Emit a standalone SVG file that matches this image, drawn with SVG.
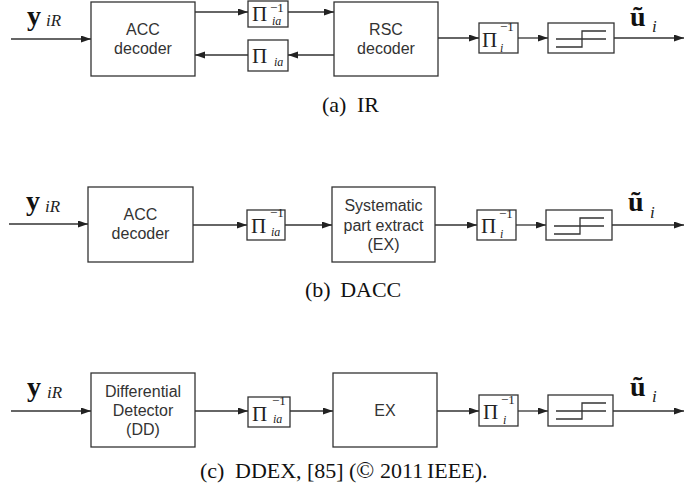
<svg xmlns="http://www.w3.org/2000/svg" width="684" height="497" viewBox="0 0 684 497">
<defs>
<style>
.box{fill:#fff;stroke:#333;stroke-width:1.3}
.ln{fill:none;stroke:#333;stroke-width:1.3}
.con{fill:none;stroke:#333;stroke-width:1.3;marker-end:url(#ah)}
.sans{font-family:"Liberation Sans",Arial,sans-serif;font-size:16px;fill:#333;text-anchor:middle}
.pi{font-family:"Liberation Serif","Times New Roman",serif;font-size:21px;fill:#222}
.sup{font-family:"Liberation Serif","Times New Roman",serif;font-size:13px;fill:#222}
.sub{font-family:"Liberation Serif","Times New Roman",serif;font-style:italic;font-size:12px;fill:#222}
.big{font-family:"Liberation Serif","Times New Roman",serif;font-weight:bold;font-size:28px;fill:#111}
.ital{font-family:"Liberation Serif","Times New Roman",serif;font-style:italic;font-size:17px;fill:#222}
.cap{font-family:"Liberation Serif","Times New Roman",serif;font-size:22px;fill:#111}
</style>
<marker id="ah" markerUnits="userSpaceOnUse" markerWidth="11" markerHeight="8" refX="10" refY="3.5" orient="auto">
<path d="M0,0 L10,3.5 L0,7 z" fill="#222"/>
</marker>
<g id="step">
<path class="ln" d="M8,16 H58 M8,24 H34 V8 H58"/>
</g>
</defs>

<!-- Row (a) -->
<g id="a-acc"><rect class="box" x="91" y="2" width="104" height="74"/><text class="sans" x="143" y="35">ACC</text><text class="sans" x="143" y="54">decoder</text></g>
<g id="a-pi1"><rect class="box" x="248" y="1" width="40" height="26"/><text class="pi" x="252" y="21">Π</text><text class="sup" x="270" y="12">−1</text><text class="sub" x="272" y="25">ia</text></g>
<g id="a-pi2"><rect class="box" x="248" y="40" width="40" height="31"/><text class="pi" x="252" y="63">Π</text><text class="sub" x="274" y="66">ia</text></g>
<g id="a-rsc"><rect class="box" x="334" y="2" width="104" height="74"/><text class="sans" x="386" y="35">RSC</text><text class="sans" x="386" y="54">decoder</text></g>
<g id="a-pii"><rect class="box" x="479" y="23" width="39" height="30"/><text class="pi" x="482" y="47">Π</text><text class="sup" x="500" y="31">−1</text><text class="sub" x="500" y="52">i</text></g>
<g id="a-hd"><rect class="box" x="548" y="23" width="66" height="30"/><use href="#step" x="548" y="23"/></g>
<g id="a-lbl"><text class="big" x="27" y="25">y</text><text class="ital" x="46" y="26">iR</text><text class="big" x="630" y="26">ũ</text><text class="ital" x="652" y="32">i</text></g>
<text class="cap" x="322" y="112">(a)<tspan dx="5"> </tspan>IR</text>

<!-- Row (b) -->
<g id="b-acc"><rect class="box" x="88" y="187" width="105" height="75"/><text class="sans" x="140.5" y="220">ACC</text><text class="sans" x="140.5" y="239">decoder</text></g>
<g id="b-pi"><rect class="box" x="247" y="210" width="38" height="30"/><text class="pi" x="251" y="233">Π</text><text class="sup" x="270" y="217">−1</text><text class="sub" x="271" y="236">ia</text></g>
<g id="b-sys"><rect class="box" x="332" y="187" width="103" height="75"/><text class="sans" x="383.5" y="210.5">Systematic</text><text class="sans" x="383.5" y="230.5">part extract</text><text class="sans" x="383.5" y="250">(EX)</text></g>
<g id="b-pii"><rect class="box" x="477" y="210" width="39" height="30"/><text class="pi" x="481" y="233">Π</text><text class="sup" x="499" y="218">−1</text><text class="sub" x="500" y="238">i</text></g>
<g id="b-hd"><rect class="box" x="546" y="210" width="66" height="30"/><use href="#step" x="546" y="210"/></g>
<g id="b-lbl"><text class="big" x="26" y="210">y</text><text class="ital" x="45" y="212">iR</text><text class="big" x="628" y="211">ũ</text><text class="ital" x="650" y="218">i</text></g>
<text class="cap" x="305" y="297">(b)<tspan dx="4"> </tspan>DACC</text>

<!-- Row (c) -->
<g id="c-dd"><rect class="box" x="91" y="373" width="104" height="74"/><text class="sans" x="143" y="396.5">Differential</text><text class="sans" x="143" y="415.5">Detector</text><text class="sans" x="143" y="435">(DD)</text></g>
<g id="c-pi"><rect class="box" x="248" y="397" width="42" height="30"/><text class="pi" x="252" y="421">Π</text><text class="sup" x="272" y="405">−1</text><text class="sub" x="273" y="423">ia</text></g>
<g id="c-ex"><rect class="box" x="333" y="373" width="104" height="74"/><text class="sans" x="385" y="416">EX</text></g>
<g id="c-pii"><rect class="box" x="479" y="395" width="39" height="31"/><text class="pi" x="483" y="419">Π</text><text class="sup" x="501" y="404">−1</text><text class="sub" x="503" y="424">i</text></g>
<g id="c-hd"><rect class="box" x="548" y="395" width="65" height="31"/><use href="#step" x="548" y="395"/></g>
<g id="c-lbl"><text class="big" x="27" y="396">y</text><text class="ital" x="47" y="398">iR</text><text class="big" x="630" y="396">ũ</text><text class="ital" x="652" y="402">i</text></g>
<text class="cap" y="478"><tspan x="200">(c)</tspan><tspan x="235">DDEX,</tspan><tspan x="307">[85]</tspan><tspan x="349">(</tspan><tspan x="356" font-size="24">©</tspan><tspan x="380">2011</tspan><tspan x="427">IEEE).</tspan></text>

<g id="connectors">
<path class="con" d="M11,39 H91"/>
<path class="con" d="M195,12 H248"/>
<path class="con" d="M288,12 H334"/>
<path class="con" d="M334,55 H288"/>
<path class="con" d="M248,55 H195"/>
<path class="con" d="M438,38 H479"/>
<path class="con" d="M518,38 H548"/>
<path class="con" d="M614,38 H684"/>

<path class="con" d="M9,224 H88"/>
<path class="con" d="M193,225 H247"/>
<path class="con" d="M285,225 H332"/>
<path class="con" d="M435,225 H477"/>
<path class="con" d="M516,225 H546"/>
<path class="con" d="M612,225 H684"/>

<path class="con" d="M11,411 H91"/>
<path class="con" d="M195,411 H248"/>
<path class="con" d="M290,411 H333"/>
<path class="con" d="M437,411 H479"/>
<path class="con" d="M518,411 H548"/>
<path class="con" d="M613,411 H684"/>
</g>
</svg>
